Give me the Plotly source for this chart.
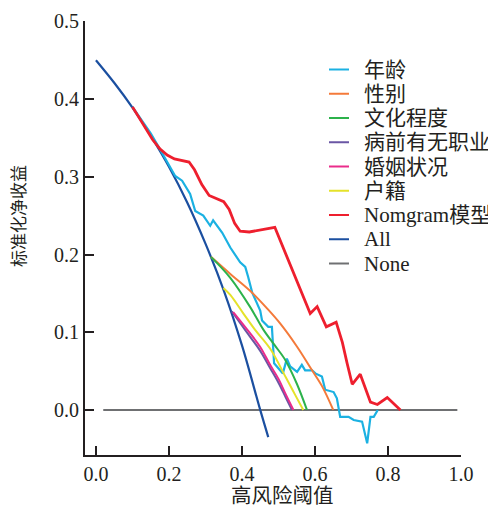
import plotly.graph_objects as go

# ---- data ----
all_x = [0.0, 0.05, 0.1, 0.15, 0.2, 0.25, 0.3, 0.35, 0.4, 0.45, 0.472]
all_y = [0.45, 0.421, 0.389, 0.353, 0.313, 0.267, 0.214, 0.154, 0.083, 0.0, -0.035]

none_x = [0.02, 0.99]
none_y = [0.0, 0.0]

nomo_x = [0.10, 0.13, 0.155, 0.175, 0.195, 0.215, 0.24, 0.255, 0.27, 0.29, 0.31, 0.33,
          0.35, 0.365, 0.38, 0.395, 0.42, 0.49, 0.51, 0.532, 0.56, 0.587, 0.606, 0.631,
          0.658, 0.675, 0.688, 0.702, 0.724, 0.74, 0.752, 0.771, 0.798, 0.834]
nomo_y = [0.390, 0.368, 0.348, 0.336, 0.328, 0.323, 0.321, 0.319, 0.309, 0.290, 0.276, 0.272,
          0.268, 0.258, 0.240, 0.230, 0.229, 0.235, 0.212, 0.188, 0.155, 0.124, 0.133, 0.107,
          0.113, 0.087, 0.060, 0.033, 0.046, 0.025, 0.010, 0.007, 0.016, 0.0]

age_x = [0.10, 0.13, 0.15, 0.17, 0.19, 0.205, 0.217, 0.236, 0.258, 0.272, 0.294, 0.313,
         0.321, 0.346, 0.368, 0.395, 0.409, 0.417, 0.428, 0.45, 0.455, 0.472, 0.482, 0.488,
         0.512, 0.523, 0.532, 0.551, 0.564, 0.573, 0.592, 0.601, 0.619, 0.628, 0.651, 0.660,
         0.669, 0.692, 0.706, 0.729, 0.743, 0.752, 0.761, 0.772]
age_y = [0.390, 0.369, 0.356, 0.340, 0.323, 0.310, 0.301, 0.295, 0.278, 0.256, 0.250, 0.237,
         0.244, 0.228, 0.209, 0.190, 0.184, 0.171, 0.151, 0.128, 0.115, 0.107, 0.107, 0.060,
         0.047, 0.066, 0.056, 0.049, 0.058, 0.051, 0.051, 0.047, 0.043, 0.026, 0.023, 0.015,
         -0.009, -0.009, -0.013, -0.015, -0.043, -0.009, -0.009, 0.0]

sex_x = [0.315, 0.368, 0.423, 0.47, 0.505, 0.55, 0.592, 0.62, 0.65]
sex_y = [0.197, 0.175, 0.153, 0.130, 0.111, 0.082, 0.051, 0.030, 0.0]

edu_x = [0.315, 0.368, 0.423, 0.459, 0.49, 0.519, 0.55, 0.578]
edu_y = [0.197, 0.170, 0.132, 0.103, 0.083, 0.064, 0.034, 0.0]

job_x = [0.372, 0.41, 0.45, 0.477, 0.50, 0.52, 0.537]
job_y = [0.127, 0.102, 0.076, 0.054, 0.035, 0.016, 0.0]

mar_x = [0.376, 0.41, 0.45, 0.477, 0.50, 0.52, 0.541]
mar_y = [0.126, 0.106, 0.081, 0.058, 0.040, 0.020, 0.0]

reg_x = [0.349, 0.368, 0.404, 0.436, 0.477, 0.52, 0.545, 0.568]
reg_y = [0.157, 0.148, 0.124, 0.103, 0.079, 0.042, 0.020, 0.0]

x_ticks = [0.0, 0.2, 0.4, 0.6, 0.8, 1.0]
x_tick_labels = ["0.0", "0.2", "0.4", "0.6", "0.8", "1.0"]
y_ticks = [0.0, 0.1, 0.2, 0.3, 0.4, 0.5]
y_tick_labels = ["0.0", "0.1", "0.2", "0.3", "0.4", "0.5"]

legend_order = ["年龄", "性别", "文化程度", "病前有无职业", "婚姻状况", "户籍",
                "Nomgram模型", "All", "None"]

SERIF = "Liberation Serif, Times New Roman, Noto Sans CJK SC, serif"
INK = "#231f20"

# The page body has an 8px default margin, so the figure is drawn 8px in from
# the window's top-left corner. Geometry below is given in window pixels.
OFF = 8
W, H = 496 - OFF, 509 - OFF
L, R, T, B = 85, 461, 21, 455          # plot area in window pixels
def px(xp):
    return (xp - L) / (R - L)
def py(yp):
    return (B - yp) / (B - T)

fig = go.Figure()

# (name, x, y, color, width, shape) in drawing order
series = [
    ("None", none_x, none_y, "#6f7072", 2, "linear"),
    ("All", all_x, all_y, "#1b4fa0", 2.2, "spline"),
    ("年龄", age_x, age_y, "#1bb1e2", 2.2, "linear"),
    ("性别", sex_x, sex_y, "#f47a3a", 2, "spline"),
    ("文化程度", edu_x, edu_y, "#2cb24b", 2, "spline"),
    ("病前有无职业", job_x, job_y, "#6a56a4", 2, "spline"),
    ("婚姻状况", mar_x, mar_y, "#ea2c8b", 2, "spline"),
    ("户籍", reg_x, reg_y, "#e5e22a", 2, "spline"),
    ("Nomgram模型", nomo_x, nomo_y, "#ee1f2e", 2.8, "linear"),
]
colors = {}
for name, xs, ys, col, w, shape in series:
    colors[name] = col
    fig.add_trace(go.Scatter(
        x=xs, y=ys, mode="lines", name=name, showlegend=False,
        line=dict(color=col, width=w, shape=shape),
    ))

# legend drawn as line samples + text
shapes = []
annotations = []
row0, row_step = 69.5, 24.25
for i, name in enumerate(legend_order):
    yy = row0 + i * row_step
    shapes.append(dict(type="line", xref="paper", yref="paper",
                       x0=px(329), x1=px(349), y0=py(yy), y1=py(yy),
                       line=dict(color=colors[name], width=2)))
    annotations.append(dict(text=name, xref="paper", yref="paper",
                            x=px(362), y=py(yy), xanchor="left", yanchor="middle",
                            showarrow=False,
                            font=dict(family=SERIF, size=21, color=INK)))

annotations += [
    dict(text="高风险阈值", xref="paper", yref="paper",
         x=px(282), y=py(496), xanchor="center", yanchor="middle", showarrow=False,
         font=dict(family=SERIF, size=20.5, color=INK)),
    dict(text="标准化净收益", xref="paper", yref="paper",
         x=px(19), y=py(216), textangle=-90,
         xanchor="center", yanchor="middle", showarrow=False,
         font=dict(family=SERIF, size=17, color=INK)),
]

fig.update_layout(
    width=W, height=H,
    margin=dict(l=L - OFF, r=496 - R, t=T - OFF, b=509 - B, autoexpand=False),
    paper_bgcolor="white", plot_bgcolor="white",
    font=dict(family=SERIF, size=19, color=INK),
    showlegend=False,
    xaxis=dict(
        range=[-0.03, 1.0], tickvals=x_ticks, ticktext=x_tick_labels,
        showline=True, linecolor=INK, linewidth=2, automargin=False,
        ticks="inside", ticklen=9, tickwidth=2, tickcolor=INK,
        showgrid=False, zeroline=False,
        tickfont=dict(family=SERIF, size=20, color=INK),
    ),
    yaxis=dict(
        range=[-0.058, 0.5005], tickvals=y_ticks, ticktext=y_tick_labels,
        showline=True, linecolor=INK, linewidth=2, automargin=False,
        ticks="inside", ticklen=9, tickwidth=2, tickcolor=INK,
        showgrid=False, zeroline=False,
        tickfont=dict(family=SERIF, size=20, color=INK),
    ),
    shapes=shapes,
    annotations=annotations,
)

fig.write_html("out.html")
